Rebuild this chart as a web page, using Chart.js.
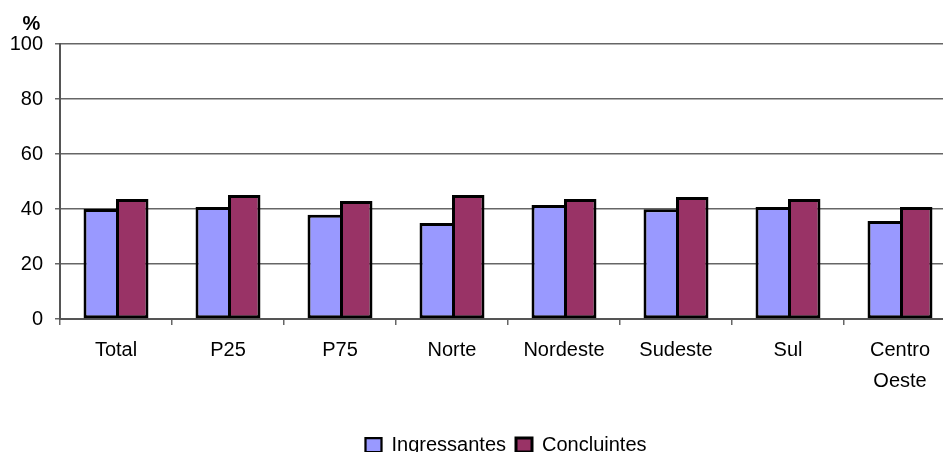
<!DOCTYPE html>
<html><head><meta charset="utf-8">
<script src="https://cdn.jsdelivr.net/npm/chart.js@4/dist/chart.umd.min.js"></script>
<style>html,body{margin:0;padding:0;overflow:hidden;background:#fff}</style>
</head><body>
<canvas id="c" width="960" height="452"></canvas>
<script>
const categories = ['Total', 'P25', 'P75', 'Norte', 'Nordeste', 'Sudeste', 'Sul', ['Centro', 'Oeste']];
const ingressantes = [40.0, 40.7, 37.9, 34.9, 41.5, 39.9, 40.7, 35.6];
const concluintes = [43.6, 45.1, 42.9, 45.1, 43.6, 44.4, 43.6, 40.7];
const seriesNames = ['Ingressantes', 'Concluintes'];
const yUnit = '%';
const yMin = 0, yMax = 100, yStep = 20;

const FONT = "'Liberation Sans', Arial, sans-serif";
const unitPlugin = {
  id: 'unitLabel',
  afterLayout(chart) {
    const lg = chart.legend;
    if (lg) { lg.left += 28; lg.right += 28; lg.top += 13; lg.bottom += 13; }
  },
  afterDraw(chart) {
    const ctx = chart.ctx;
    ctx.save();
    ctx.font = "bold 20px " + FONT;
    ctx.fillStyle = '#000';
    ctx.textAlign = 'center';
    ctx.textBaseline = 'middle';
    ctx.fillText(yUnit, 31.5, 24);
    ctx.restore();
  }
};

new Chart(document.getElementById('c'), {
  type: 'bar',
  data: {
    labels: categories,
    datasets: [
      { label: seriesNames[0], data: ingressantes, backgroundColor: '#9999FF', borderColor: '#000',
        borderWidth: { top: 3, left: 3, right: 0, bottom: 3 }, borderSkipped: false },
      { label: seriesNames[1], data: concluintes, backgroundColor: '#993366', borderColor: '#000',
        borderWidth: { top: 3, left: 3, right: 3, bottom: 3 }, borderSkipped: false }
    ]
  },
  options: {
    responsive: false,
    animation: false,
    layout: { padding: { left: 0, right: 4, top: 44, bottom: 0 } },
    datasets: { bar: { categoryPercentage: 0.58, barPercentage: 1.0 } },
    plugins: {
      tooltip: { enabled: false },
      legend: {
        position: 'bottom',
        labels: {
          color: '#000',
          font: { family: FONT, size: 20 },
          boxWidth: 16, boxHeight: 14, padding: 10
        }
      }
    },
    scales: {
      x: {
        afterFit(s) { s.height = 93; },
        grid: { offset: true, drawOnChartArea: false, drawTicks: true, tickLength: 6, color: '#666', lineWidth: 1.5 },
        border: { color: '#555', width: 2 },
        ticks: { color: '#000', font: { family: FONT, size: 20, lineHeight: 1.55 }, padding: 10, maxRotation: 0, autoSkip: false }
      },
      y: {
        min: yMin, max: yMax,
        afterFit(s) { s.width = 60; },
        grid: { color: '#666', lineWidth: 1.5, drawTicks: true, tickLength: 5 },
        border: { color: '#555', width: 2 },
        ticks: { stepSize: yStep, color: '#000', font: { family: FONT, size: 20 }, padding: 12 }
      }
    }
  },
  plugins: [unitPlugin]
});
</script>
</body></html>
